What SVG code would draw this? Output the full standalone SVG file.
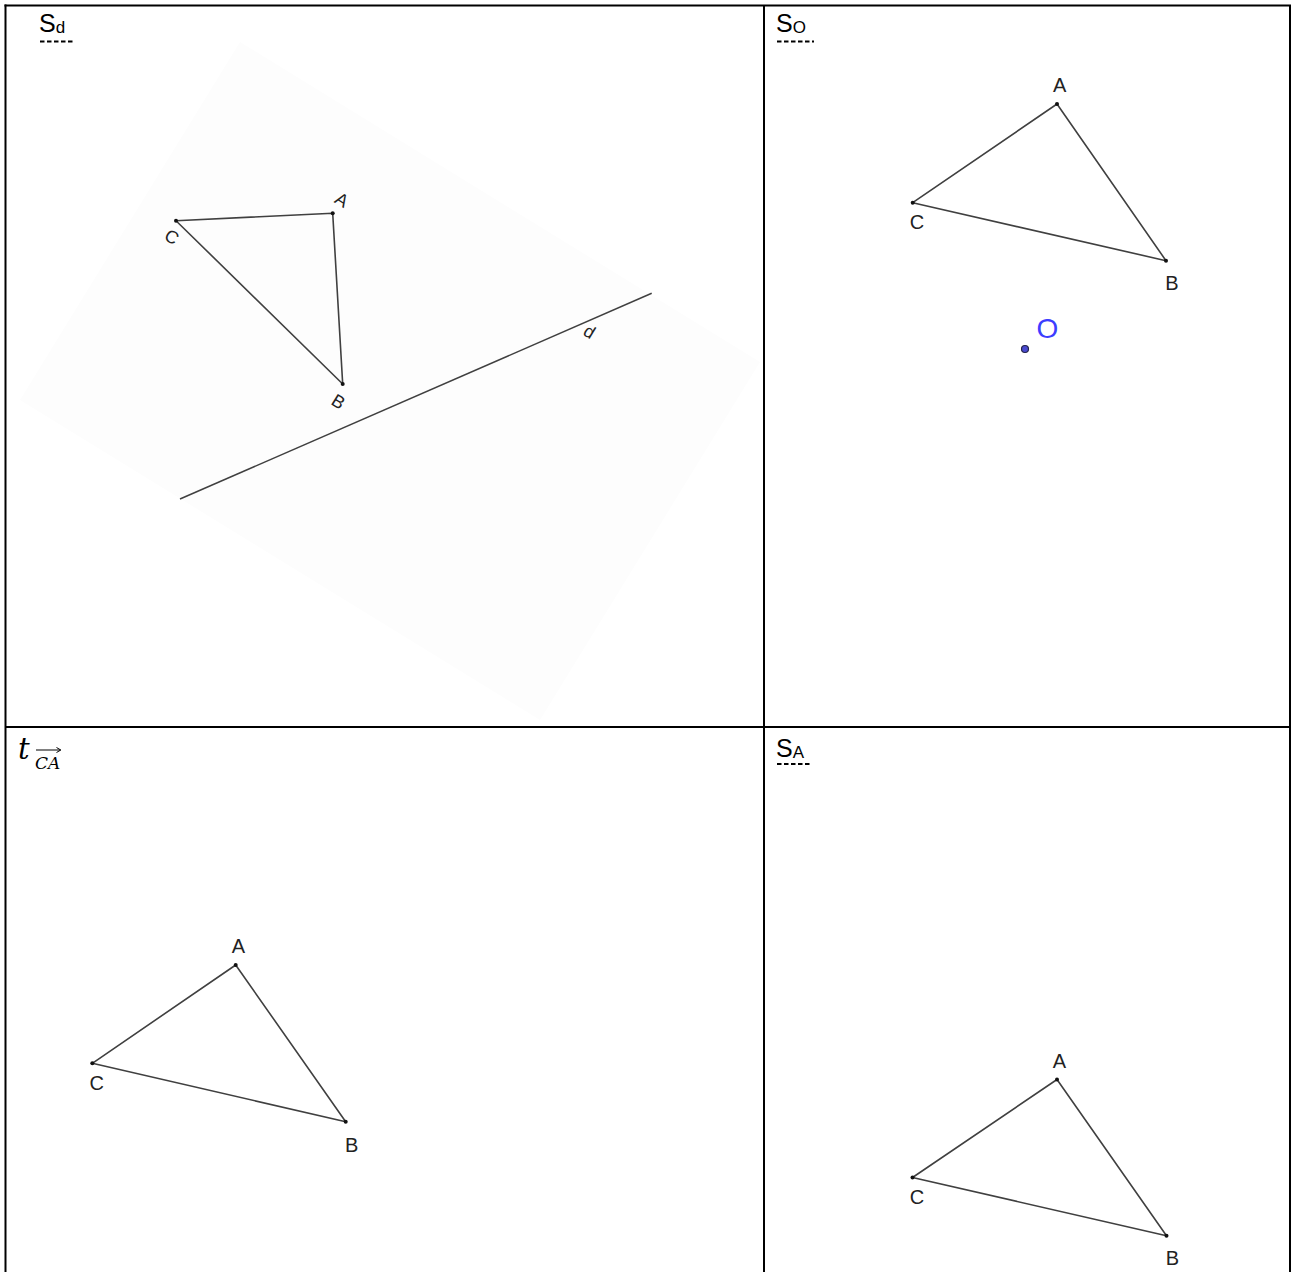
<svg xmlns="http://www.w3.org/2000/svg" width="1293" height="1272" viewBox="0 0 1293 1272">
<style>
.border{stroke:#000;stroke-width:2;fill:none}
.tri{fill:none;stroke:#404040;stroke-width:1.6;stroke-linejoin:round}
.dot{fill:#111}
.lbl{font-family:"Liberation Sans",Arial,sans-serif;font-size:20px;fill:#222;text-anchor:middle}
.rlbl{font-family:"Liberation Sans",Arial,sans-serif;font-size:18px;fill:#222;text-anchor:middle;dominant-baseline:central}
.title{font-family:"Liberation Sans",Arial,sans-serif;font-size:25px;fill:#000}
.sub{font-size:17px}
.uline{stroke:#000;stroke-width:2;stroke-dasharray:4.5 2.5}
</style>
<rect x="0" y="0" width="1293" height="1272" fill="#fff"/>
<g id="table">
<line class="border" x1="5.5" y1="4.5" x2="5.5" y2="1272"/>
<line class="border" x1="4.5" y1="5.5" x2="1291" y2="5.5"/>
<line class="border" x1="764" y1="5.5" x2="764" y2="1272"/>
<line class="border" x1="1290" y1="5.5" x2="1290" y2="1272"/>
<line class="border" x1="5.5" y1="727" x2="1290" y2="727"/>
</g>
<g id="panel-sd">
<polygon points="240,42 760,362 540,720 20,400" fill="#fdfdfd"/>
<text class="title" x="39" y="32">S<tspan class="sub" dy="1">d</tspan></text>
<line class="uline" x1="40" y1="41.5" x2="73" y2="41.5"/>
<polygon class="tri" points="176,220.7 332.7,213.3 342.7,384"/>
<circle class="dot" cx="176" cy="220.7" r="2"/>
<circle class="dot" cx="332.7" cy="213.3" r="2"/>
<circle class="dot" cx="342.7" cy="384" r="2"/>
<text class="rlbl" transform="translate(341.7,200) rotate(31.6)">A</text>
<text class="rlbl" transform="translate(171.7,237) rotate(31.6)">C</text>
<text class="rlbl" transform="translate(338.3,401.7) rotate(31.6)">B</text>
<line x1="180" y1="499" x2="651.7" y2="293.3" stroke="#404040" stroke-width="1.5"/>
<text class="rlbl" transform="translate(589.3,331.7) rotate(31.6)">d</text>
</g>
<g id="panel-so">
<text class="title" x="776" y="32">S<tspan class="sub" dy="1">O</tspan></text>
<line class="uline" x1="777" y1="41.5" x2="814" y2="41.5"/>
<polygon class="tri" points="1057,104 912.7,202.7 1166,260.7"/>
<circle class="dot" cx="1057" cy="104" r="2"/>
<circle class="dot" cx="912.7" cy="202.7" r="2"/>
<circle class="dot" cx="1166" cy="260.7" r="2"/>
<text class="lbl" x="1059.6" y="91.5">A</text>
<text class="lbl" x="917" y="229">C</text>
<text class="lbl" x="1172" y="290">B</text>
<circle cx="1025" cy="349" r="3.5" fill="#4a4ad0" stroke="#23234a" stroke-width="1.2"/>
<text x="1047.5" y="338" font-family="Liberation Sans,Arial,sans-serif" font-size="28" fill="#3d3dff" text-anchor="middle">O</text>
</g>
<g id="panel-tca">
<text x="18" y="759" font-family="DejaVu Serif,Liberation Serif,serif" font-style="italic" font-size="29" fill="#000">t</text>
<text x="35" y="769" font-family="DejaVu Serif,Liberation Serif,serif" font-style="italic" font-size="17" fill="#000">CA</text>
<path d="M36 750 H60.5 M56.5 747.5 L60.8 750 L56.5 752.5" fill="none" stroke="#000" stroke-width="1"/>
<polygon class="tri" points="235.7,965 92.3,1063.3 345.7,1121.7"/>
<circle class="dot" cx="235.7" cy="965" r="2"/>
<circle class="dot" cx="92.3" cy="1063.3" r="2"/>
<circle class="dot" cx="345.7" cy="1121.7" r="2"/>
<text class="lbl" x="238.3" y="952.5">A</text>
<text class="lbl" x="96.7" y="1089.5">C</text>
<text class="lbl" x="351.7" y="1151.5">B</text>
</g>
<g id="panel-sa">
<text class="title" x="776" y="757">S<tspan class="sub" dy="1">A</tspan></text>
<line class="uline" x1="777" y1="764" x2="812" y2="764"/>
<polygon class="tri" points="1057,1079.5 912.5,1177.5 1166.5,1235.7"/>
<circle class="dot" cx="1057" cy="1079.5" r="2"/>
<circle class="dot" cx="912.5" cy="1177.5" r="2"/>
<circle class="dot" cx="1166.5" cy="1235.7" r="2"/>
<text class="lbl" x="1059.5" y="1067.5">A</text>
<text class="lbl" x="917" y="1203.5">C</text>
<text class="lbl" x="1172.5" y="1264.5">B</text>
</g>
</svg>
